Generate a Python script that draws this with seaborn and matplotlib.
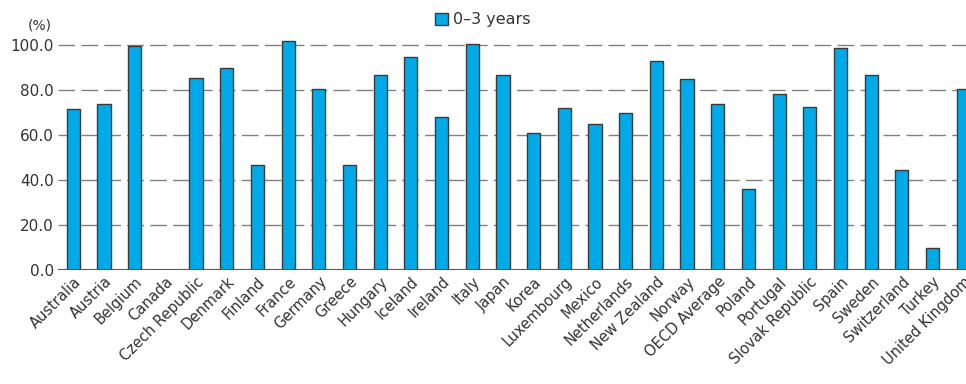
import numpy as np
import pandas as pd
import seaborn as sns
import matplotlib.pyplot as plt

countries = [
    "Australia", "Austria", "Belgium", "Canada", "Czech Republic", "Denmark",
    "Finland", "France", "Germany", "Greece", "Hungary", "Iceland", "Ireland",
    "Italy", "Japan", "Korea", "Luxembourg", "Mexico", "Netherlands",
    "New Zealand", "Norway", "OECD Average", "Poland", "Portugal",
    "Slovak Republic", "Spain", "Sweden", "Switzerland", "Turkey",
    "United Kingdom",
]
values = [
    71.7, 73.8, 99.4, np.nan, 85.3, 89.6,
    46.4, 101.5, 80.3, 46.8, 86.8, 94.4, 67.9,
    100.3, 86.4, 60.9, 72.1, 64.7, 69.9,
    92.6, 84.7, 73.6, 36.0, 78.1,
    72.3, 98.5, 86.5, 44.6, 9.9,
    80.3,
]
yticks = [0, 20, 40, 60, 80, 100]
series_name = "0\u20133 years"

df = pd.DataFrame({"Country": countries, "Value": values})

sns.set_style("white")
plt.rcParams["font.family"] = ["DejaVu Sans"]

fig = plt.figure(figsize=(9.66, 3.84), dpi=100)
ax = fig.add_axes([0.060, 0.297, 0.940, 0.598])

sns.barplot(
    data=df, x="Country", y="Value", order=countries,
    color="#00AAE8", edgecolor="#3a3a3a", linewidth=1.0,
    width=0.43, saturation=1, ax=ax, label=series_name,
)

ax.set_xlim(-0.5, 29.09)
ax.set_ylim(0, 102)
ax.set_yticks(yticks)
ax.set_yticklabels([f"{t:.1f}" for t in yticks], fontsize=11, color="#333333")
ax.set_xticks(range(len(countries)))
ax.set_xticklabels(countries, rotation=45, ha="right", rotation_mode="anchor",
                   fontsize=10.5, color="#333333")
ax.tick_params(axis="both", length=0, pad=3)
ax.set_xlabel("")
ax.set_ylabel("")

for t in yticks[1:]:
    ax.axhline(t, color="#808080", linestyle=(0, (12, 4.5)), linewidth=1.0, zorder=0)
ax.axhline(0, color="#555555", linewidth=1.5, zorder=3)

for s in ax.spines.values():
    s.set_visible(False)

ax.text(-0.02, 1.033, "(%)", transform=ax.transAxes, ha="center", va="bottom",
        fontsize=10, color="#333333")

leg = ax.legend(loc="center", bbox_to_anchor=(0.5, 0.948), bbox_transform=fig.transFigure,
                frameon=False, fontsize=11.5, handlelength=0.8, handleheight=0.8,
                handletextpad=0.3)
for t in leg.get_texts():
    t.set_color("#333333")

fig.savefig("out.png", dpi=100)
